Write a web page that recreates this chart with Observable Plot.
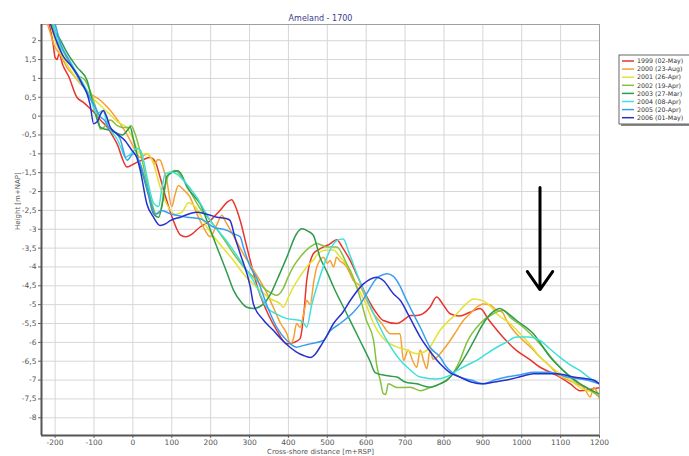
<!DOCTYPE html>
<html>
<head>
<meta charset="utf-8">
<script src="https://cdn.jsdelivr.net/npm/d3@7"></script>
<script src="https://cdn.jsdelivr.net/npm/@observablehq/plot@0.6"></script>
<style>
  html, body { margin: 0; padding: 0; background: white; }
  #chart { position: relative; width: 689px; height: 456px; overflow: hidden; }
</style>
</head>
<body>
<div id="chart"></div>
<script>
// ---- Data ----
const title = "Ameland - 1700";
const xLabel = "Cross-shore distance [m+RSP]";
const yLabel = "Height [m+NAP]";
const xTicks = [-200,-100,0,100,200,300,400,500,600,700,800,900,1000,1100,1200];
const yTicks = [-8,-7.5,-7,-6.5,-6,-5.5,-5,-4.5,-4,-3.5,-3,-2.5,-2,-1.5,-1,-0.5,0,0.5,1,1.5,2];
const xDomain = [-235, 1200];
const yDomain = [-8.47, 2.43];

const seriesNames = ["1999 (02-May)","2000 (23-Aug)","2001 (26-Apr)","2002 (19-Apr)","2003 (27-Mar)","2004 (08-Apr)","2005 (20-Apr)","2006 (01-May)"];
const seriesColors = ["#e8342c","#f5a033","#e4e234","#84c23e","#2f9c4c","#3fe0dc","#3a9ef0","#2631cc"];

const s1999 = [[-215,2.45],[-205,1.9],[-200,1.55],[-195,1.5],[-190,1.65],[-180,1.35],[-165,1.05],[-144,0.5],[-128,0.37],[-110,0.2],[-95,0.05],[-84,-0.1],[-65,-0.3],[-50,-0.56],[-38,-0.8],[-28,-1.1],[-15,-1.35],[2,-1.27],[15,-1.2],[27,-1.15],[44,-1.1],[57,-1.2],[70,-1.62],[87,-2.24],[104,-2.77],[122,-3.15],[135,-3.2],[147,-3.16],[173,-2.94],[199,-2.77],[224,-2.5],[245,-2.26],[254,-2.22],[262,-2.35],[276,-2.77],[293,-3.47],[323,-4.62],[350,-5.3],[370,-5.68],[396,-6.04],[415,-6.0],[430,-5.9],[440,-5.2],[447,-4.36],[464,-3.65],[481,-3.52],[505,-3.4],[524,-3.28],[540,-3.5],[559,-3.83],[580,-4.3],[602,-4.8],[625,-5.2],[644,-5.42],[679,-5.5],[700,-5.38],[713,-5.29],[730,-5.29],[764,-5.07],[781,-4.8],[798,-5.0],[816,-5.24],[840,-5.3],[867,-5.2],[893,-5.1],[915,-5.4],[944,-5.77],[987,-6.22],[1020,-6.45],[1047,-6.66],[1075,-6.8],[1098,-6.92],[1125,-7.1],[1150,-7.28],[1175,-7.25],[1200,-7.2]];
const s2000 = [[-220,2.45],[-212,2.2],[-204,1.92],[-185,1.6],[-170,1.3],[-150,1.05],[-135,0.86],[-110,0.6],[-84,0.42],[-58,0.15],[-33,-0.2],[-16,-0.47],[2,-0.82],[19,-1.1],[36,-1.0],[50,-1.15],[57,-1.26],[64,-1.15],[70,-1.17],[80,-1.45],[87,-1.7],[100,-2.4],[108,-2.1],[117,-1.84],[130,-1.95],[147,-2.15],[165,-2.6],[181,-2.94],[199,-3.2],[215,-2.9],[229,-2.63],[237,-2.77],[260,-3.2],[284,-3.65],[305,-4.0],[327,-4.36],[345,-4.7],[361,-5.07],[380,-5.5],[396,-5.77],[405,-6.04],[413,-5.9],[421,-5.5],[430,-5.6],[440,-5.2],[447,-4.89],[456,-5.0],[465,-4.4],[473,-4.0],[490,-3.74],[500,-3.9],[507,-3.83],[516,-4.0],[524,-3.74],[533,-3.85],[541,-3.9],[550,-4.0],[567,-4.36],[584,-4.5],[602,-4.9],[619,-5.24],[640,-5.5],[662,-5.77],[687,-5.77],[696,-6.48],[708,-6.2],[720,-6.5],[730,-6.66],[739,-6.2],[748,-6.5],[756,-6.7],[764,-6.2],[772,-6.45],[781,-6.4],[798,-6.2],[816,-5.95],[833,-5.68],[850,-5.42],[867,-5.24],[884,-5.07],[901,-4.98],[918,-5.0],[936,-5.15],[950,-5.2],[961,-5.42],[980,-5.7],[1004,-5.95],[1025,-6.15],[1047,-6.39],[1070,-6.6],[1098,-6.9],[1120,-7.0],[1141,-7.1],[1160,-7.2],[1176,-7.45],[1185,-7.2],[1193,-7.3],[1200,-7.5]];
const s2001 = [[-212,2.45],[-200,2.0],[-185,1.65],[-165,1.3],[-145,1.0],[-120,0.7],[-100,0.45],[-80,0.25],[-60,0.05],[-40,-0.15],[-16,-0.3],[0,-0.6],[19,-1.0],[36,-1.0],[53,-1.26],[70,-1.88],[87,-2.33],[109,-2.6],[126,-2.55],[143,-2.3],[160,-2.4],[190,-2.94],[224,-3.4],[259,-3.83],[284,-4.18],[327,-4.62],[355,-4.85],[379,-4.98],[387,-5.07],[400,-4.8],[413,-4.53],[430,-4.25],[447,-4.0],[465,-3.8],[481,-3.6],[500,-3.55],[516,-3.55],[530,-3.7],[541,-3.83],[560,-4.1],[576,-4.5],[600,-5.0],[619,-5.5],[640,-5.85],[662,-6.04],[687,-6.15],[704,-6.2],[730,-6.3],[750,-6.25],[764,-6.13],[777,-5.9],[790,-5.68],[810,-5.45],[833,-5.24],[855,-5.0],[876,-4.85],[901,-4.9],[920,-5.05],[936,-5.24],[970,-5.5],[1004,-5.86],[1025,-6.1],[1047,-6.39],[1075,-6.65],[1098,-6.83],[1125,-7.0],[1150,-7.2],[1175,-7.3],[1200,-7.37]];
const s2002 = [[-208,2.45],[-200,2.2],[-195,2.15],[-185,1.85],[-165,1.45],[-144,1.1],[-123,0.95],[-101,0.4],[-90,0.0],[-84,-0.35],[-75,-0.3],[-58,-0.1],[-40,-0.25],[-27,-0.3],[-10,-0.3],[-5,-0.25],[5,-0.45],[20,-1.0],[35,-1.7],[50,-2.35],[60,-2.6],[70,-2.55],[80,-2.0],[90,-1.6],[100,-1.47],[109,-1.44],[125,-1.6],[145,-1.95],[173,-2.45],[199,-2.77],[230,-3.2],[259,-3.65],[285,-4.0],[310,-4.27],[344,-4.62],[370,-4.75],[385,-4.6],[400,-4.25],[415,-3.95],[430,-3.74],[456,-3.47],[473,-3.38],[499,-3.47],[524,-3.47],[550,-3.92],[567,-4.3],[584,-4.8],[600,-5.4],[619,-5.95],[627,-6.6],[636,-7.0],[644,-7.36],[650,-7.38],[657,-7.1],[679,-7.2],[713,-7.19],[739,-7.28],[764,-7.2],[790,-7.1],[816,-6.92],[840,-6.5],[859,-6.0],[893,-5.5],[927,-5.24],[953,-5.15],[970,-5.33],[1004,-5.6],[1047,-6.04],[1090,-6.57],[1133,-7.0],[1167,-7.2],[1200,-7.45]];
const s2003 = [[-205,2.45],[-198,2.2],[-191,2.1],[-170,1.7],[-144,1.3],[-118,0.95],[-101,0.24],[-84,-0.29],[-70,-0.35],[-58,-0.38],[-27,-0.5],[-12,-0.35],[-7,-0.29],[1,-0.6],[15,-1.2],[27,-1.6],[40,-2.1],[53,-2.59],[66,-2.68],[78,-2.2],[87,-1.6],[100,-1.5],[115,-1.45],[125,-1.55],[139,-1.88],[160,-2.15],[173,-2.33],[195,-2.9],[216,-3.47],[240,-4.1],[259,-4.62],[280,-4.95],[293,-5.07],[310,-5.1],[336,-4.98],[355,-4.7],[370,-4.36],[396,-3.74],[421,-3.12],[434,-2.99],[450,-3.05],[464,-3.16],[481,-3.74],[500,-4.15],[516,-4.53],[550,-5.24],[584,-5.95],[610,-6.5],[623,-6.8],[650,-6.88],[679,-6.92],[700,-7.05],[730,-7.1],[764,-7.19],[790,-7.1],[807,-7.01],[830,-6.75],[859,-6.3],[880,-5.9],[901,-5.5],[925,-5.2],[944,-5.1],[960,-5.2],[987,-5.42],[1030,-5.77],[1073,-6.39],[1116,-6.83],[1150,-7.1],[1200,-7.37]];
const s2004 = [[-205,2.45],[-190,1.9],[-170,1.6],[-153,1.3],[-130,0.9],[-110,0.5],[-93,0.06],[-76,0.15],[-67,-0.2],[-50,-0.47],[-41,-0.6],[-30,-0.85],[-20,-1.09],[-5,-1.0],[10,-0.85],[19,-0.9],[28,-1.2],[36,-1.6],[53,-2.3],[66,-2.4],[75,-1.9],[83,-1.53],[100,-1.48],[115,-1.55],[130,-1.7],[164,-2.15],[199,-2.77],[240,-3.3],[276,-3.83],[300,-4.2],[319,-4.53],[344,-5.07],[370,-5.25],[396,-5.37],[430,-5.42],[440,-5.5],[447,-5.6],[460,-5.0],[473,-4.53],[499,-3.74],[515,-3.4],[524,-3.3],[541,-3.26],[555,-3.6],[576,-4.18],[600,-4.8],[619,-5.24],[653,-5.95],[688,-6.48],[710,-6.7],[739,-6.92],[781,-6.97],[810,-6.9],[833,-6.75],[860,-6.6],[884,-6.48],[910,-6.3],[936,-6.13],[960,-6.0],[987,-5.86],[1017,-5.86],[1047,-5.95],[1070,-6.15],[1098,-6.39],[1125,-6.6],[1150,-6.75],[1175,-6.95],[1200,-7.1]];
const s2005 = [[-200,2.45],[-185,1.9],[-165,1.5],[-145,1.1],[-120,0.65],[-100,0.3],[-85,0.0],[-70,-0.15],[-63,-0.3],[-50,-0.38],[-33,-0.6],[-15,-1.17],[1,-1.0],[19,-1.26],[36,-1.88],[49,-2.4],[57,-2.6],[74,-2.5],[96,-2.59],[139,-2.68],[173,-2.72],[207,-2.94],[242,-3.03],[259,-3.12],[276,-3.2],[284,-3.47],[302,-4.0],[319,-4.3],[344,-5.0],[370,-5.6],[396,-5.95],[421,-6.13],[440,-6.08],[456,-6.04],[490,-5.95],[507,-5.7],[533,-5.5],[567,-5.2],[584,-5.0],[602,-4.7],[627,-4.3],[645,-4.2],[653,-4.18],[670,-4.25],[688,-4.53],[700,-4.8],[721,-5.24],[739,-5.6],[764,-6.13],[790,-6.39],[807,-6.66],[841,-6.92],[870,-7.0],[901,-7.1],[930,-7.0],[961,-6.92],[1000,-6.85],[1030,-6.79],[1073,-6.79],[1116,-6.92],[1167,-7.0],[1200,-7.1]];
const s2006 = [[-212,2.45],[-195,1.95],[-178,1.57],[-160,1.35],[-144,1.12],[-130,0.85],[-118,0.6],[-110,0.3],[-101,-0.2],[-92,-0.15],[-84,0.03],[-76,0.15],[-68,0.0],[-58,-0.3],[-41,-0.47],[-20,-0.65],[-3,-0.9],[10,-1.1],[19,-1.44],[36,-2.33],[53,-2.68],[70,-2.9],[85,-2.85],[96,-2.77],[122,-2.68],[164,-2.55],[190,-2.6],[216,-2.68],[242,-2.72],[250,-2.77],[262,-3.2],[276,-3.65],[302,-4.53],[310,-4.98],[335,-5.4],[361,-5.68],[385,-5.95],[404,-6.13],[420,-6.25],[439,-6.35],[456,-6.4],[470,-6.3],[481,-6.13],[500,-5.8],[516,-5.5],[540,-5.2],[559,-4.89],[593,-4.45],[627,-4.27],[644,-4.36],[670,-4.71],[688,-4.89],[710,-5.3],[739,-5.86],[765,-6.25],[790,-6.57],[815,-6.8],[841,-6.92],[870,-7.05],[901,-7.1],[930,-7.05],[961,-7.0],[1000,-6.9],[1030,-6.83],[1090,-6.83],[1133,-6.92],[1184,-7.0],[1200,-7.1]];
const seriesValues = [s1999, s2000, s2001, s2002, s2003, s2004, s2005, s2006];

// annotation arrow (data coordinates)
const arrowData = [{x1: 1047, y1: -1.89, x2: 1047, y2: -4.6}];

// ---- Build table ----
const rows = [];
seriesValues.forEach((s, i) => s.forEach(([x, y]) => rows.push({series: seriesNames[i], x, y})));

const fmt = d => String(d).replace(".", ",");
const FONT = "'DejaVu Sans', Verdana, sans-serif";

const plot = Plot.plot({
  width: 689,
  height: 456,
  marginLeft: 41,
  marginRight: 90,
  marginTop: 24,
  marginBottom: 21,
  style: {fontFamily: FONT, fontSize: "7.5px", color: "#555", background: "white", overflow: "hidden"},
  x: {domain: xDomain, label: null},
  y: {domain: yDomain, label: null},
  color: {domain: seriesNames, range: seriesColors},
  marks: [
    Plot.gridX(xTicks, {stroke: "#d6d6d6", strokeOpacity: 1, strokeWidth: 1}),
    Plot.gridY(yTicks, {stroke: "#d6d6d6", strokeOpacity: 1, strokeWidth: 1}),
    Plot.frame({stroke: "#a0a0a0", strokeWidth: 1}),
    Plot.axisX(xTicks, {tickFormat: fmt, tickSize: 3, tickPadding: 1.5, stroke: "#666", fill: "#555", fontSize: 7.5}),
    Plot.axisY(yTicks, {tickFormat: fmt, tickSize: 3, tickPadding: 2, stroke: "#666", fill: "#555", fontSize: 7.5}),
    Plot.line(rows, {x: "x", y: "y", z: "series", stroke: "series", strokeWidth: 1.5, curve: "monotone-x", clip: true}),
    Plot.ruleX([xDomain[0]], {stroke: "#555", strokeWidth: 2}),
    Plot.ruleY([yDomain[0]], {stroke: "#555", strokeWidth: 2}),
    Plot.arrow(arrowData, {x1: "x1", y1: "y1", x2: "x2", y2: "y2", stroke: "black", strokeWidth: 3, headLength: 11, headAngle: 70}),
    Plot.text([title], {frameAnchor: "top", dy: -9, fill: "#3b3b8c", fontSize: 8}),
    Plot.text([xLabel], {frameAnchor: "bottom", dy: 18.5, fill: "#555", fontSize: 7}),
    Plot.text([yLabel], {frameAnchor: "left", dx: -24, rotate: -90, fill: "#555", fontSize: 7})
  ]
});

document.getElementById("chart").appendChild(plot);

// ---- Legend (top right) ----
const svg = d3.select(plot);
const lg = svg.append("g").attr("transform", "translate(619,55)").attr("text-anchor", "start");
lg.append("rect").attr("x", 2).attr("y", 2).attr("width", 90).attr("height", 69).attr("fill", "#888");
lg.append("rect").attr("x", 0).attr("y", 0).attr("width", 90).attr("height", 69).attr("fill", "white").attr("stroke", "#666").attr("stroke-width", 1);
seriesNames.forEach((name, i) => {
  const yy = 6 + i * 8.1;
  lg.append("line").attr("x1", 3).attr("x2", 15).attr("y1", yy).attr("y2", yy)
    .attr("stroke", seriesColors[i]).attr("stroke-width", 1.5);
  lg.append("text").attr("x", 18).attr("y", yy).attr("dy", "0.35em")
    .attr("text-anchor", "start")
    .attr("font-size", 6.3).attr("fill", "#333").attr("font-family", FONT)
    .text(name);
});
</script>
</body>
</html>
